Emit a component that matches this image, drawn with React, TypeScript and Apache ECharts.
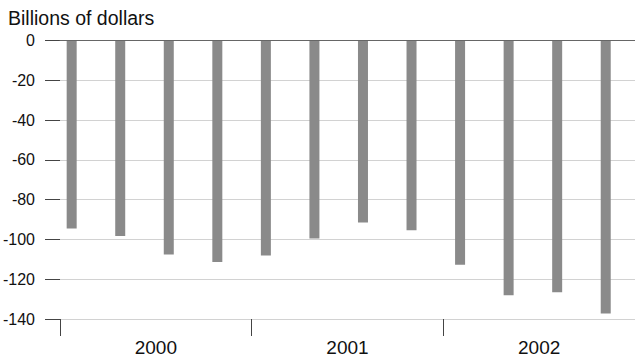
import React, { useEffect, useRef } from "react";
import * as echarts from "echarts";

const quarters = [
  "Q1 2000", "Q2 2000", "Q3 2000", "Q4 2000",
  "Q1 2001", "Q2 2001", "Q3 2001", "Q4 2001",
  "Q1 2002", "Q2 2002", "Q3 2002", "Q4 2002",
];
const balance = [-94.5, -98.2, -107.5, -111.3, -108, -99.5, -91.5, -95.4, -112.7, -128.1, -126.6, -137.2];
const years = ["2000", "2001", "2002"];
const yMin = -140;
const yMax = 0;
const yStep = 20;

const FONT = "'Liberation Sans', Arial, Helvetica, sans-serif";

export default function App() {
  const ref = useRef<HTMLDivElement>(null);
  useEffect(() => {
    if (!ref.current) return;
    const chart = echarts.init(ref.current, undefined, { renderer: "svg" });
    const top = 40.7;
    const height = 278.3;
    chart.setOption({
      animation: false,
      backgroundColor: "#ffffff",
      textStyle: { fontFamily: FONT },
      title: {
        text: "Billions of dollars",
        left: 3,
        top: 3,
        textStyle: { fontFamily: FONT, fontSize: 19.5, fontWeight: "normal", color: "#111" },
      },
      grid: [
        { left: 47.4, width: 582.6, top, height },
        { left: 55, width: 585, top, height },
      ],
      xAxis: [
        {
          type: "category",
          gridIndex: 0,
          data: quarters,
          show: false,
        },
        {
          type: "category",
          gridIndex: 1,
          data: years,
          position: "bottom",
          axisLine: { show: false, onZero: false },
          axisTick: { show: true, length: 17, lineStyle: { color: "#444", width: 1 } },
          axisLabel: { fontFamily: FONT, fontSize: 19, color: "#111", margin: 19 },
          splitLine: { show: false },
        },
        {
          type: "category",
          gridIndex: 1,
          data: years,
          position: "top",
          z: 5,
          axisLine: { show: true, onZero: false, lineStyle: { color: "#666", width: 1 } },
          axisTick: { show: false },
          axisLabel: { show: false },
          splitLine: { show: false },
        },
      ],
      yAxis: [
        {
          type: "value",
          gridIndex: 0,
          min: yMin,
          max: yMax,
          interval: yStep,
          show: false,
          splitLine: { show: false },
        },
        {
          type: "value",
          gridIndex: 1,
          min: yMin,
          max: yMax,
          interval: yStep,
          axisLine: { show: false },
          axisTick: { show: true, length: 15, lineStyle: { color: "#444", width: 1 } },
          axisLabel: { fontFamily: FONT, fontSize: 16, color: "#111", margin: 25 },
          splitLine: { show: true, lineStyle: { color: "#d2d2d2", width: 1 } },
        },
      ],
      series: [
        {
          type: "bar",
          xAxisIndex: 0,
          yAxisIndex: 0,
          data: balance,
          barWidth: 10,
          itemStyle: { color: "#8a8a8a" },
        },
      ],
    });
    return () => chart.dispose();
  }, []);
  return (
    <div
      ref={ref}
      style={{ position: "fixed", left: 0, top: 0, width: 635, height: 358 }}
    />
  );
}
